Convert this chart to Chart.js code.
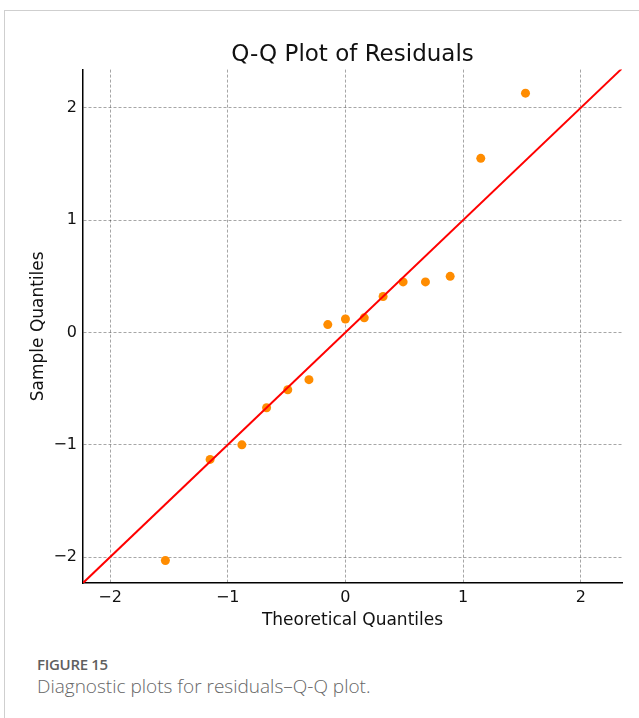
<!DOCTYPE html>
<html>
<head>
<meta charset="utf-8">
<script src="https://cdn.jsdelivr.net/npm/chart.js@4.4.1/dist/chart.umd.min.js"></script>
<style>
  html, body { margin: 0; padding: 0; background: #fff; }
  body { width: 639px; height: 718px; position: relative; overflow: hidden; }
  .card { position: absolute; left: 4px; top: 10px; width: 700px; height: 800px; border: 1px solid #cfcfcf; }
  #wrap { position: absolute; left: 0; top: 0; width: 639px; height: 640px; }
  .fig { position: absolute; left: 37px; top: 654px; font-family: "Open Sans", sans-serif; color: #666; }
  .fig b { display: block; font-size: 15px; font-weight: 600; letter-spacing: -0.3px; color: #5f5f5f; }
  .fig span { display: block; font-size: 19px; font-weight: 300; margin-top: -1px; }
</style>
</head>
<body>
<div class="card"></div>
<div id="wrap"><canvas id="qq" width="639" height="640"></canvas></div>
<div class="fig"><b>FIGURE 15</b><span>Diagnostic plots for residuals–Q-Q plot.</span></div>
<script>
// valores
const teoricos = [-1.53, -1.15, -0.88, -0.67, -0.49, -0.31, -0.15, 0.0, 0.16, 0.32, 0.49, 0.68, 0.89, 1.15, 1.53];
const muestra = [-2.03, -1.13, -1.00, -0.67, -0.51, -0.42, 0.07, 0.12, 0.13, 0.32, 0.45, 0.45, 0.50, 1.55, 2.13];
const lineaRef = [-2.4, 2.4]; // recta y = x
const ticksX = [-2, -1, 0, 1, 2];
const ticksY = [-2, -1, 0, 1, 2];

const menos = (v) => (v < 0 ? '\u2212' + Math.abs(v) : String(v));
const fuente = 'DejaVu Sans';

new Chart(document.getElementById('qq'), {
  type: 'scatter',
  data: {
    datasets: [
      {
        type: 'line',
        data: lineaRef.map((v) => ({ x: v, y: v })),
        borderColor: '#ff0000',
        borderWidth: 2,
        pointRadius: 0,
        fill: false,
      },
      {
        data: teoricos.map((t, i) => ({ x: t, y: muestra[i] })),
        backgroundColor: '#ff8c00',
        borderWidth: 0,
        pointRadius: 4.5,
      },
    ],
  },
  options: {
    responsive: false,
    animation: false,
    layout: { padding: { left: 0, right: 17, top: 0, bottom: 0 } },
    plugins: {
      legend: { display: false },
      tooltip: { enabled: false },
      title: {
        display: true,
        text: 'Q-Q Plot of Residuals',
        fullSize: false,
        color: '#111',
        font: { family: fuente, size: 23, weight: 'normal', lineHeight: 1.2 },
        padding: { top: 41, bottom: 1 },
      },
    },
    scales: {
      x: {
        type: 'linear',
        min: -2.23,
        max: 2.35,
        afterBuildTicks: (s) => { s.ticks = ticksX.map((v) => ({ value: v })); },
        afterFit: (s) => { s.height = 57; },
        ticks: { color: '#111', padding: 5, font: { family: fuente, size: 16 }, callback: (v) => menos(v) },
        grid: { color: 'rgba(0,0,0,0.35)', lineWidth: 1, drawTicks: false },
        border: { display: true, color: '#000', width: 1.5, dash: [3, 2] },
        title: { display: true, text: 'Theoretical Quantiles', color: '#111', font: { family: fuente, size: 17 }, padding: { top: 0, bottom: 9 } },
      },
      y: {
        type: 'linear',
        min: -2.23,
        max: 2.34,
        afterBuildTicks: (s) => { s.ticks = ticksY.map((v) => ({ value: v })); },
        afterFit: (s) => { s.width = 83; },
        ticks: { color: '#111', padding: 6, font: { family: fuente, size: 16 }, callback: (v) => menos(v) },
        grid: { color: 'rgba(0,0,0,0.35)', lineWidth: 1, drawTicks: false },
        border: { display: true, color: '#000', width: 1.5, dash: [3, 2] },
        title: { display: true, text: 'Sample Quantiles', color: '#111', font: { family: fuente, size: 17 }, padding: { top: 28, bottom: 0 } },
      },
    },
  },
});
</script>
</body>
</html>
